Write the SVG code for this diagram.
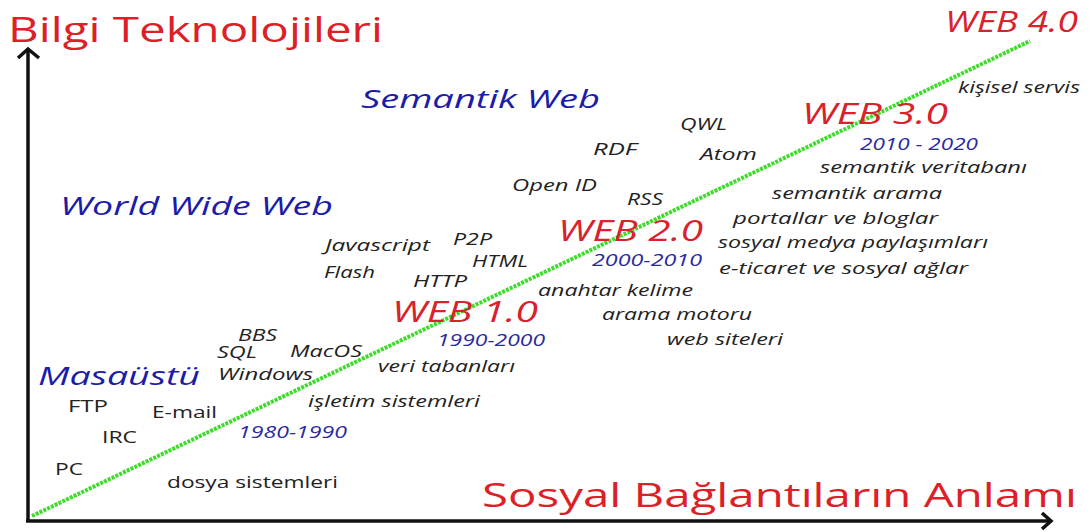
<svg xmlns="http://www.w3.org/2000/svg" width="1090" height="532" viewBox="0 0 1090 532">
<style>
text{font-family:"Open Sans","Noto Sans","Liberation Sans",sans-serif;}
.t{fill:#222;font-size:17px;font-style:italic;}
.u{fill:#222;font-size:17px;}
.red{fill:#dc1f28;}
.web{fill:#d8222c;font-size:29px;font-style:italic;}
.era{fill:#1c1ca8;font-size:25px;font-style:italic;}
.yr{fill:#2a2aa0;font-size:16px;font-style:italic;}
.axis{stroke:#111;stroke-width:3.5;fill:none;}
.grn{stroke:#3edc2a;stroke-width:4;stroke-dasharray:3 1.2;fill:none;}
</style>
<rect width="1090" height="532" fill="#fff"/>
<g id="connectors">
<line class="grn" x1="32" y1="516" x2="1030" y2="41"/>
<path class="axis" d="M28,521 V50"/>
<path class="axis" d="M18,58 L28,49 L39,58"/>
<path class="axis" d="M26,521 H1050"/>
<path class="axis" d="M1042,513 L1051,521 L1042,529"/>
</g>
<g id="axis-y-label"><text x="8" y="42" class="red" font-size="35" textLength="375" lengthAdjust="spacingAndGlyphs">Bilgi Teknolojileri</text></g>
<g id="axis-x-label"><text x="482" y="507" class="red" font-size="33" textLength="595" lengthAdjust="spacingAndGlyphs">Sosyal Bağlantıların Anlamı</text></g>

<g id="web40"><text x="945" y="32" class="web" font-size="28" textLength="133" lengthAdjust="spacingAndGlyphs">WEB 4.0</text></g>
<g id="kisisel"><text x="958" y="93" class="t" textLength="122" lengthAdjust="spacingAndGlyphs">kişisel servis</text></g>
<g id="web30"><text x="802" y="124" class="web" textLength="146" lengthAdjust="spacingAndGlyphs">WEB 3.0</text></g>
<g id="y2010"><text x="860" y="150" class="yr" textLength="118" lengthAdjust="spacingAndGlyphs">2010 - 2020</text></g>
<g id="semvt"><text x="820" y="173" class="t" font-size="18" textLength="207" lengthAdjust="spacingAndGlyphs">semantik veritabanı</text></g>
<g id="semarama"><text x="772" y="199" class="t" font-size="18" textLength="170" lengthAdjust="spacingAndGlyphs">semantik arama</text></g>
<g id="portallar"><text x="733" y="224" class="t" font-size="18" textLength="205" lengthAdjust="spacingAndGlyphs">portallar ve  bloglar</text></g>
<g id="sosyalmedya"><text x="718" y="248" class="t" font-size="18" textLength="270" lengthAdjust="spacingAndGlyphs">sosyal medya paylaşımları</text></g>
<g id="eticaret"><text x="719" y="274" class="t" font-size="18" textLength="249" lengthAdjust="spacingAndGlyphs">e-ticaret  ve sosyal ağlar</text></g>

<g id="semantikweb"><text x="361" y="108" class="era" font-size="24" textLength="239" lengthAdjust="spacingAndGlyphs">Semantik Web</text></g>
<g id="qwl"><text x="680" y="130" class="t" textLength="47" lengthAdjust="spacingAndGlyphs">QWL</text></g>
<g id="rdf"><text x="593" y="155" class="t" textLength="44" lengthAdjust="spacingAndGlyphs">RDF</text></g>
<g id="atom"><text x="700" y="160" class="t" textLength="57" lengthAdjust="spacingAndGlyphs">Atom</text></g>
<g id="openid"><text x="512" y="191" class="t" textLength="85" lengthAdjust="spacingAndGlyphs">Open ID</text></g>
<g id="rss"><text x="627" y="205" class="t" textLength="36" lengthAdjust="spacingAndGlyphs">RSS</text></g>
<g id="web20"><text x="558" y="241" class="web" textLength="145" lengthAdjust="spacingAndGlyphs">WEB 2.0</text></g>
<g id="y2000"><text x="592" y="266" class="yr" textLength="110" lengthAdjust="spacingAndGlyphs">2000-2010</text></g>

<g id="www"><text x="60" y="215" class="era" textLength="273" lengthAdjust="spacingAndGlyphs">World Wide Web</text></g>
<g id="javascript"><text x="325" y="251" class="t" textLength="105" lengthAdjust="spacingAndGlyphs">Javascript</text></g>
<g id="p2p"><text x="453" y="245" class="t" textLength="39" lengthAdjust="spacingAndGlyphs">P2P</text></g>
<g id="html"><text x="472" y="267" class="t" textLength="56" lengthAdjust="spacingAndGlyphs">HTML</text></g>
<g id="flash"><text x="324" y="278" class="t" textLength="51" lengthAdjust="spacingAndGlyphs">Flash</text></g>
<g id="http"><text x="413" y="287" class="t" textLength="54" lengthAdjust="spacingAndGlyphs">HTTP</text></g>
<g id="anahtar"><text x="538" y="296" class="t" textLength="155" lengthAdjust="spacingAndGlyphs">anahtar kelime</text></g>
<g id="web10"><text x="392" y="322" class="web" textLength="146" lengthAdjust="spacingAndGlyphs">WEB 1.0</text></g>
<g id="arama"><text x="602" y="320" class="t" textLength="150" lengthAdjust="spacingAndGlyphs">arama motoru</text></g>
<g id="y1990"><text x="437" y="346" class="yr" textLength="108" lengthAdjust="spacingAndGlyphs">1990-2000</text></g>
<g id="websiteleri"><text x="667" y="345" class="t" textLength="116" lengthAdjust="spacingAndGlyphs">web siteleri</text></g>

<g id="bbs"><text x="238" y="341" class="t" textLength="39" lengthAdjust="spacingAndGlyphs">BBS</text></g>
<g id="sql"><text x="217" y="358" class="t" textLength="40" lengthAdjust="spacingAndGlyphs">SQL</text></g>
<g id="macos"><text x="290" y="357" class="t" textLength="72" lengthAdjust="spacingAndGlyphs">MacOS</text></g>
<g id="masaustu"><text x="38" y="385" class="era" textLength="162" lengthAdjust="spacingAndGlyphs">Masaüstü</text></g>
<g id="windows"><text x="218" y="380" class="t" textLength="95" lengthAdjust="spacingAndGlyphs">Windows</text></g>
<g id="veritabanlari"><text x="378" y="372" class="t" textLength="137" lengthAdjust="spacingAndGlyphs">veri tabanları</text></g>
<g id="isletim"><text x="308" y="407" class="t" textLength="172" lengthAdjust="spacingAndGlyphs">işletim sistemleri</text></g>
<g id="ftp"><text x="68" y="412" class="u" textLength="40" lengthAdjust="spacingAndGlyphs">FTP</text></g>
<g id="email"><text x="152" y="418" class="u" textLength="65" lengthAdjust="spacingAndGlyphs">E-mail</text></g>
<g id="y1980"><text x="238" y="438" class="yr" textLength="109" lengthAdjust="spacingAndGlyphs">1980-1990</text></g>
<g id="irc"><text x="102" y="443" class="u" textLength="35" lengthAdjust="spacingAndGlyphs">IRC</text></g>
<g id="pc"><text x="55" y="475" class="u" textLength="28" lengthAdjust="spacingAndGlyphs">PC</text></g>
<g id="dosya"><text x="167" y="488" class="u" textLength="171" lengthAdjust="spacingAndGlyphs">dosya sistemleri</text></g>
</svg>
